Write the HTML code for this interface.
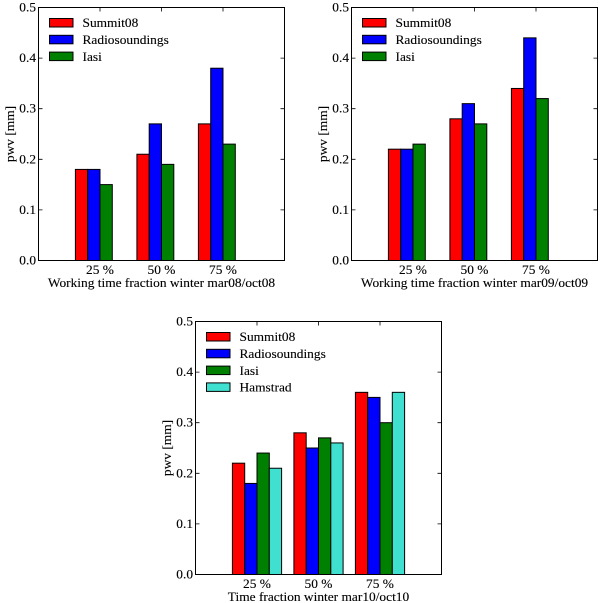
<!DOCTYPE html>
<html>
<head>
<meta charset="utf-8">
<title>PWV bar charts</title>
<style>
html,body{margin:0;padding:0;background:#fff;}
#figure{display:block;width:600px;height:603px;}
text{font-family:"Liberation Serif",serif;font-size:13px;fill:#000;stroke:#000;stroke-width:0.12px;}
</style>
</head>
<body>
<svg id="figure" xmlns="http://www.w3.org/2000/svg" width="600" height="603" viewBox="0 0 600 603"></svg>
<script>
const categories = ['25 %', '50 %', '75 %'];
const yTickValues = [0, 0.1, 0.2, 0.3, 0.4, 0.5];
const yTickLabels = ['0.0', '0.1', '0.2', '0.3', '0.4', '0.5'];
const seriesNames = ['Summit08', 'Radiosoundings', 'Iasi', 'Hamstrad'];

const winter08Summit = [0.18, 0.21, 0.27];
const winter08Radio = [0.18, 0.27, 0.38];
const winter08Iasi = [0.15, 0.19, 0.23];

const winter09Summit = [0.22, 0.28, 0.34];
const winter09Radio = [0.22, 0.31, 0.44];
const winter09Iasi = [0.23, 0.27, 0.32];

const winter10Summit = [0.22, 0.28, 0.36];
const winter10Radio = [0.18, 0.25, 0.35];
const winter10Iasi = [0.24, 0.27, 0.30];
const winter10Hamstrad = [0.21, 0.26, 0.36];

const xLabel08 = 'Working time fraction winter mar08/oct08';
const xLabel09 = 'Working time fraction winter mar09/oct09';
const xLabel10 = 'Time fraction winter mar10/oct10';
const yLabel = 'pwv [mm]';

const colors = ['#ff0000', '#0000ff', '#008000', '#40e0d0'];
const svg = document.getElementById('figure');
const NS = 'http://www.w3.org/2000/svg';
const AXW = 246, AXH = 253, XMAX = 4, YMAX = 0.5, BARW = 0.2, BARSTART = -0.4;
const STRETCH = 1.03;

function node(tag, attrs, parent) {
  const el = document.createElementNS(NS, tag);
  for (const k in attrs) el.setAttribute(k, attrs[k]);
  parent.appendChild(el);
  return el;
}

function label(parent, str, x, y, anchor, rotate) {
  const attrs = { x: x, y: y, 'text-anchor': anchor };
  if (rotate) attrs.transform = 'rotate(-90 ' + x + ' ' + y + ')';
  const t = node('text', attrs, parent);
  t.textContent = str;
  const w = t.getComputedTextLength();
  t.setAttribute('textLength', (w * STRETCH).toFixed(1));
  t.setAttribute('lengthAdjust', 'spacingAndGlyphs');
  return t;
}

function drawPanel(key, left, top, series, xLabelText) {
  const sx = v => left + v / XMAX * AXW;
  const sy = v => top + AXH - v / YMAX * AXH;
  const g = node('g', {}, svg);
  
  

  node('rect', { x: left, y: top, width: AXW, height: AXH, fill: '#fff' }, g);

  series.forEach((vals, s) => {
    vals.forEach((v, c) => {
      const x0 = sx(c + 1 + BARSTART + s * BARW);
      const bar = node('rect', {
        x: x0, y: sy(v), width: sx(BARW) - sx(0), height: sy(0) - sy(v),
        fill: colors[s], stroke: '#000', 'stroke-width': 1
      }, g);
      
      
    });
  });

  yTickValues.forEach((v, i) => {
    const y = sy(v);
    node('path', { d: 'M' + left + ' ' + y + 'h4M' + (left + AXW) + ' ' + y + 'h-4', stroke: '#000', 'stroke-width': 0.8, fill: 'none' }, g);
    const t = label(g, yTickLabels[i], left - 2.5, y + 4, 'end');
    
    
  });

  categories.forEach((c, i) => {
    const x = sx(i + 1);
    node('path', { d: 'M' + x + ' ' + (top + AXH) + 'v-4M' + x + ' ' + top + 'v4', stroke: '#000', 'stroke-width': 0.8, fill: 'none' }, g);
    const t = label(g, c, x, top + AXH + 13.5, 'middle');
    
    
  });

  const frame = node('rect', { x: left, y: top, width: AXW, height: AXH, fill: 'none', stroke: '#000', 'stroke-width': 1 }, g);
  
  

  const xt = label(g, xLabelText, left + AXW / 2, top + 279.5, 'middle');
  
  

  const yt = label(g, yLabel, left - 24.5, top + AXH / 2, 'middle', true);
  
  

  series.forEach((vals, s) => {
    const row = node('g', {}, g);
    
    
    const rowY = top + 11 + s * 16.8;
    node('rect', { x: left + 11, y: rowY, width: 23.5, height: 8.5, fill: colors[s], stroke: '#000', 'stroke-width': 1 }, row);
    label(row, seriesNames[s], left + 44, rowY + 8.7, 'start');
  });
}

drawPanel('winter-08', 38.5, 7.5, [winter08Summit, winter08Radio, winter08Iasi], xLabel08);
drawPanel('winter-09', 351.5, 7.5, [winter09Summit, winter09Radio, winter09Iasi], xLabel09);
drawPanel('winter-10', 195.5, 321.5, [winter10Summit, winter10Radio, winter10Iasi, winter10Hamstrad], xLabel10);
</script>
</body>
</html>
